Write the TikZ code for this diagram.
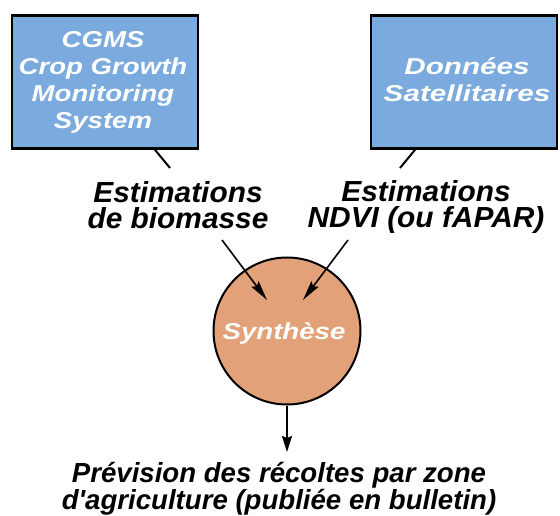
\documentclass[tikz,border=0pt]{standalone}
\usepackage{fontspec}
\setmainfont{Liberation Sans}
\newfontfamily\boxfont[FakeStretch=1.2]{Liberation Sans}
\newfontfamily\widebox[FakeStretch=1.29]{Liberation Sans}
\newfontfamily\infofont[FakeStretch=1.03]{Liberation Sans}
\usetikzlibrary{arrows.meta,calc}
\definecolor{boxblue}{RGB}{122,170,222}
\definecolor{syncolor}{RGB}{226,161,120}
% straight apostrophe, bypassing the TeX quote mapping
\newcommand\straightquote{\XeTeXglyph\XeTeXcharglyph"27\relax}
\begin{document}
\begin{tikzpicture}[x=1pt,y=-1pt,
  sysbox/.style={draw=black,line width=2.6pt,fill=boxblue,
    minimum width=186pt,minimum height=133pt,inner sep=0pt},
  boxtext/.style={text=white,font=\boxfont\bfseries\itshape\fontsize{23}{27}\selectfont,
    align=center,inner sep=0pt},
  infotext/.style={font=\infofont\bfseries\itshape\fontsize{29}{26.5}\selectfont,
    align=center,inner sep=0pt},
  resulttext/.style={font=\bfseries\itshape\fontsize{27.6}{24.5}\selectfont,
    align=center,inner sep=0pt},
  feed/.style={line width=2pt},
  arr/.style={line width=1.6pt,-{Stealth[length=20pt,width=9pt,inset=3pt]}},
  downarr/.style={line width=1.6pt,-{Stealth[length=16pt,width=10pt,inset=2pt]}}]
\useasboundingbox (0,0) rectangle (560,516);

% source boxes
\node[sysbox] (cgms) at (105,82) {};
\node[sysbox] (sat) at (464,82) {};
\node[boxtext] (cgmstext) at (103,82) {CGMS\\Crop Growth\\Monitoring\\System};
\node[boxtext,font=\widebox\bfseries\itshape\fontsize{23}{27}\selectfont]
  (sattext) at (467,80) {Données\\Satellitaires};

% estimates
\node[infotext] (bio) at (178,205) {Estimations\\de biomasse};
\node[infotext] (ndvi) at (426,207) {Estimations\\NDVI (ou fAPAR)};

% synthesis
\node[circle,draw=black,line width=2pt,fill=syncolor,minimum size=147pt,inner sep=0pt]
  (syn) at (287,331) {};
\node[boxtext] (syntext) at (284,333) {Synthèse};

% result
\node[resulttext] (result) at (279,489)
  {Prévision des récoltes par zone\\d\straightquote agriculture (publiée en bulletin)};

% connectors
\coordinate (cgmsend) at (170,168);
\coordinate (satend) at (400,168);
\coordinate (bioout) at (222,240);
\coordinate (ndviout) at (348,240);
\coordinate (resultin) at (287,452);
\draw[feed] ($(cgms.south)+(50,0)$) -- (cgmsend);
\draw[feed] ($(sat.south)+(-49,0)$) -- (satend);
\draw[arr] (bioout) -- ($(syn.center)+(-20,-31)$);
\draw[arr] (ndviout) -- ($(syn.center)+(16,-31)$);
\draw[downarr] (syn.south) -- (resultin);
\end{tikzpicture}
\end{document}
